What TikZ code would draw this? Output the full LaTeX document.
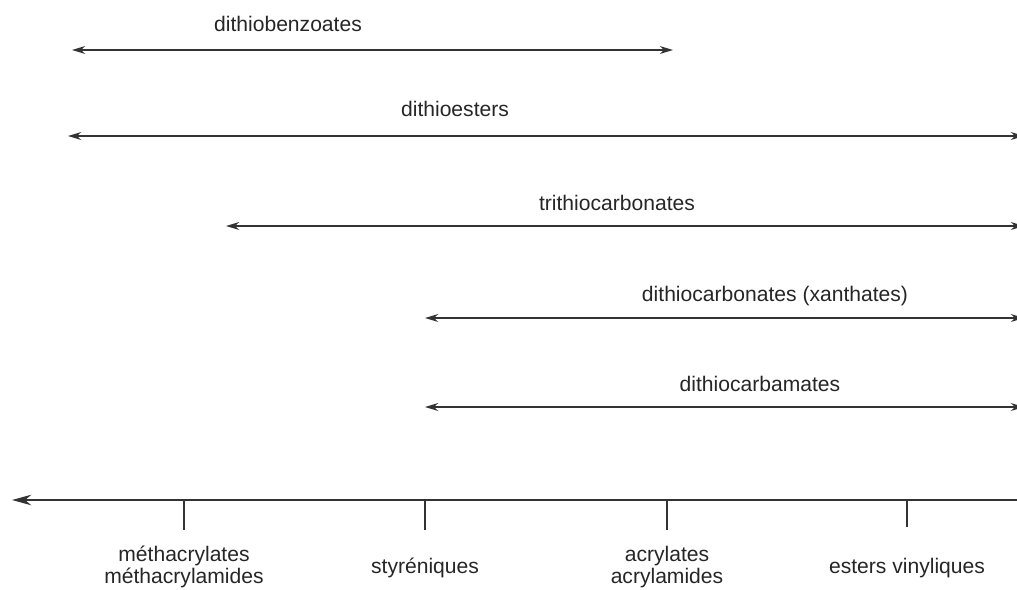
\documentclass[tikz,border=0pt]{standalone}
\usepackage{fontspec}
\setmainfont{Liberation Sans}
\usetikzlibrary{arrows.meta,positioning}

\tikzset{
  domaine/.style={draw=black!80, line width=0.9pt,
    {Stealth[length=7.5pt,width=4.5pt]}-{Stealth[length=7.5pt,width=4.5pt]}},
  axe/.style={draw=black!80, line width=0.9pt, -{Stealth[length=11pt,width=6pt]}},
  graduation/.style={draw=black!80, line width=0.7pt},
  lbl/.style={inner sep=1pt, align=center, text=black!85}
}

\begin{document}
\begin{tikzpicture}[x=0.02cm, y=-0.02cm, font=\fontsize{12}{12.6}\selectfont]
  \useasboundingbox (0,0) rectangle (1017,589);
  \clip (0,0) rectangle (1017,589);

  % domaines des agents RAFT
  \coordinate (benzL) at (72,50);   \coordinate (benzR) at (673,50);
  \coordinate (estL) at (68,136);   \coordinate (estR) at (1024,136);
  \coordinate (triL) at (226,226);  \coordinate (triR) at (1024,226);
  \coordinate (xanL) at (425,318);  \coordinate (xanR) at (1024,318);
  \coordinate (carbL) at (425,407); \coordinate (carbR) at (1024,407);

  \draw[domaine](benzL)--(benzR);
  \draw[domaine](estL)--(estR);
  \draw[domaine](triL)--(triR);
  \draw[domaine](xanL)--(xanR);
  \draw[domaine](carbL)--(carbR);

  \node[lbl] (benz) at (288,24) {dithiobenzoates};
  \node[lbl] (est) at (455,109) {dithioesters};
  \node[lbl] (tri) at (617,203) {trithiocarbonates};
  \node[lbl] (xan) at (775,296) {dithiocarbonates (xanthates)};
  \node[lbl] (carb) at (760,384) {dithiocarbamates};

  % axe des monomeres
  \coordinate (axeR) at (1017,500);
  \coordinate (axeL) at (12,500);
  \draw[axe](axeR)--(axeL);

  \coordinate (methT) at (184,500); \coordinate (methB) at (184,530);
  \coordinate (styT) at (425,500);  \coordinate (styB) at (425,530);
  \coordinate (acrT) at (667,500);  \coordinate (acrB) at (667,530);
  \coordinate (vinT) at (907,500);  \coordinate (vinB) at (907,527);
  \draw[graduation](methT)--(methB);
  \draw[graduation](styT)--(styB);
  \draw[graduation](acrT)--(acrB);
  \draw[graduation](vinT)--(vinB);

  \node[lbl] (meth) at (184,567) {méthacrylates\\méthacrylamides};
  \node[lbl] (sty) at (425,568) {styréniques};
  \node[lbl] (acr) at (667,567) {acrylates\\acrylamides};
  \node[lbl] (vin) at (907,568) {esters vinyliques};
\end{tikzpicture}
\end{document}
